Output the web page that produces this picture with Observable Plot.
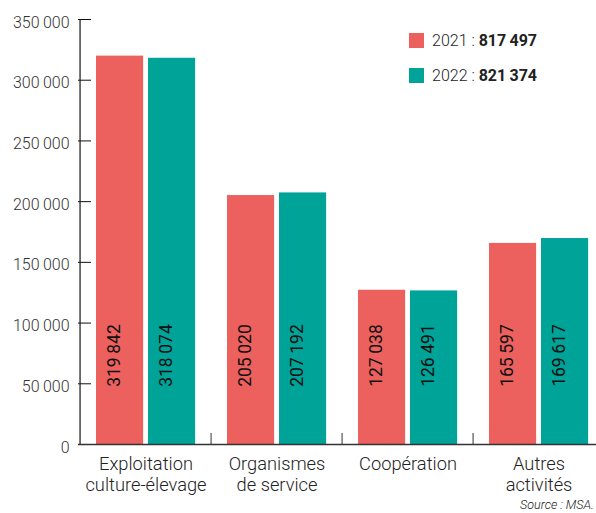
<!DOCTYPE html>
<html><head><meta charset="utf-8">
<script src="https://cdn.jsdelivr.net/npm/d3@7"></script>
<script src="https://cdn.jsdelivr.net/npm/@observablehq/plot@0.6"></script>
<style>
body{margin:0;background:#fff;overflow:hidden;width:596px;height:513px;position:relative;font-family:Roboto,"Liberation Sans",sans-serif;}
#legend{position:absolute;left:409px;top:31px;font-size:16px;font-weight:300;color:#222;}
.row{display:flex;align-items:center;height:19px;margin-bottom:16px;white-space:nowrap;}
.sw{width:15px;height:15px;margin-right:8px;flex:none;}
.row b{font-weight:700;}
#caption{position:absolute;top:497px;left:0;width:594px;text-align:right;font-size:12.5px;font-style:italic;font-weight:300;color:#222;white-space:nowrap;}
svg{overflow:hidden;}
</style></head><body><div id="chart"></div><div id="legend"></div><div id="caption"></div>
<script>
const categories = ["Exploitation\nculture-élevage", "Organismes\nde service", "Coopération", "Autres\nactivités"];
const years = ["2021", "2022"];
const values2021 = [319842, 205020, 127038, 165597];
const values2022 = [318074, 207192, 126491, 169617];
const totals = [817497, 821374];
const yTicks = [0, 50000, 100000, 150000, 200000, 250000, 300000, 350000];
const source = "Source : MSA.";

const colors = ["#ec605e", "#00a398"];
const W = 596, H = 498, mL = 78, mT = 19, mB = 54, xEnd = 605.5;
const bw = (xEnd - mL) / categories.length;

const fmt = d3.formatLocale({decimal: ",", thousands: "\u2009", grouping: [3], currency: ["", "€"]}).format(",d");

const d2021 = categories.map((c, i) => ({category: c, year: years[0], value: values2021[i]}));
const d2022 = categories.map((c, i) => ({category: c, year: years[1], value: values2022[i]}));

const chart = Plot.plot({
  width: W, height: H,
  marginLeft: mL, marginRight: 0, marginTop: mT, marginBottom: mB,
  style: {fontFamily: "Roboto, 'Liberation Sans', sans-serif", fontWeight: 300, color: "#222", background: "white"},
  x: {domain: categories, range: [mL, xEnd], padding: 0, label: null},
  y: {domain: [0, 350000], label: null},
  marks: [
    Plot.barY(d2021, {x: "category", y: "value", fill: colors[0], insetLeft: 16, insetRight: bw - 64}),
    Plot.barY(d2022, {x: "category", y: "value", fill: colors[1], insetLeft: 68, insetRight: bw - 116}),
    Plot.text(d2021, {x: "category", frameAnchor: "bottom", dy: -89, dx: -26, rotate: -90, text: d => fmt(d.value), fontSize: 17.5, fill: "#111", fontWeight: 400}),
    Plot.text(d2022, {x: "category", frameAnchor: "bottom", dy: -89, dx: 26, rotate: -90, text: d => fmt(d.value), fontSize: 17.5, fill: "#111", fontWeight: 400}),
    Plot.ruleX([categories[0]], {x: d => d, dx: -bw / 2, stroke: "#444", strokeWidth: 1.5}),
    Plot.tickY(yTicks.slice(1), {y: d => d, insetRight: (W - mL) - 13, stroke: "#111"}),
    Plot.tickX(categories.slice(1), {x: d => d, dx: -bw / 2, insetTop: (H - mT - mB) - 11, stroke: "#333"}),
    Plot.ruleY([0], {stroke: "#333", strokeWidth: 1.3}),
    Plot.axisY({ticks: yTicks, tickSize: 0, tickPadding: 9, fontSize: 16, dy: 3, tickFormat: fmt, fill: "#333", label: null}),
    Plot.axisX({tickSize: 0, tickPadding: 10, fontSize: 18.3, lineHeight: 1.18, fill: "#222", label: null})
  ]
});
document.getElementById("chart").appendChild(chart);

document.getElementById("legend").innerHTML = years.map((y, i) =>
  `<div class="row"><div class="sw" style="background:${colors[i]}"></div><span>${y} : <b>${fmt(totals[i])}</b></span></div>`
).join("");
document.getElementById("caption").textContent = source;
</script></body></html>
